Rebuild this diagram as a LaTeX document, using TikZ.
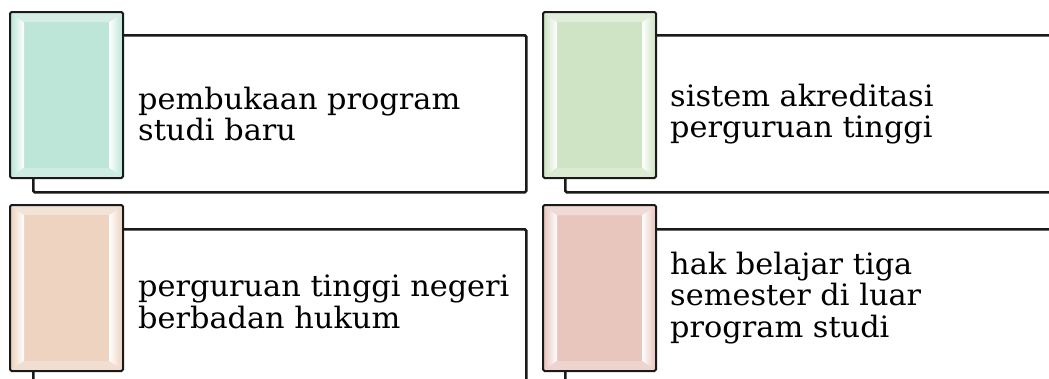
\documentclass[tikz,border=0pt]{standalone}
\usepackage{fontspec}
\setmainfont[FakeStretch=1.03]{DejaVu Serif}
\definecolor{tealfill}{HTML}{BDE5D8}
\definecolor{greenfill}{HTML}{CFE3C5}
\definecolor{peachfill}{HTML}{EDD3C0}
\definecolor{pinkfill}{HTML}{E8C6BE}
\definecolor{edge}{HTML}{1A1A1A}
\tikzset{
  panel/.style={draw=edge, line width=2.6bp, fill=white, rounded corners=1.5bp,
    minimum width=493bp, minimum height=157bp, anchor=north west, inner sep=0pt},
  tab/.style={draw=edge, line width=2bp, fill=#1, rounded corners=1.5bp,
    minimum width=111bp, minimum height=164bp, anchor=north west, inner sep=0pt},
  label/.style={anchor=west, align=left, inner sep=0pt, text=black,
    font=\fontsize{29.6}{31.5}\selectfont},
}
% glossy bevel inside a coloured tab
\newcommand{\bevel}[2]{%
  \shade[left color=#2, right color=white]
    ([shift={(1,1)}]#1.north west) -- ([shift={(14,10)}]#1.north west)
    -- ([shift={(14,-10)}]#1.south west) -- ([shift={(1,-1)}]#1.south west) -- cycle;
  \shade[left color=white, right color=#2]
    ([shift={(-1,1)}]#1.north east) -- ([shift={(-14,10)}]#1.north east)
    -- ([shift={(-14,-10)}]#1.south east) -- ([shift={(-1,-1)}]#1.south east) -- cycle;
  \fill[#2!65!white]
    ([shift={(1,1)}]#1.north west) -- ([shift={(14,10)}]#1.north west)
    -- ([shift={(-14,10)}]#1.north east) -- ([shift={(-1,1)}]#1.north east) -- cycle;
  \fill[#2!75!white]
    ([shift={(1,-1)}]#1.south west) -- ([shift={(14,-10)}]#1.south west)
    -- ([shift={(-14,-10)}]#1.south east) -- ([shift={(-1,-1)}]#1.south east) -- cycle;
  \draw[edge, line width=2bp, rounded corners=1.5bp]
    (#1.north west) rectangle (#1.south east);
}
\begin{document}
\begin{tikzpicture}[x=1bp, y=-1bp]
  \useasboundingbox (0,0) rectangle (1049,378);
  \clip (0,0) rectangle (1049,378);

  % white panels behind the tabs
  \node[panel] (p1) at (32,34) {};
  \node[panel] (p2) at (564,34) {};
  \node[panel] (p3) at (32,228) {};
  \node[panel] (p4) at (564,228) {};

  % coloured tabs
  \node[tab=tealfill]  (c1) at (10,12) {};
  \node[tab=greenfill] (c2) at (543,12) {};
  \node[tab=peachfill] (c3) at (10,205) {};
  \node[tab=pinkfill]  (c4) at (543,205) {};
  \bevel{c1}{tealfill}
  \bevel{c2}{greenfill}
  \bevel{c3}{peachfill}
  \bevel{c4}{pinkfill}

  % texts
  \node[label] (t1) at (138,114) {pembukaan program\\studi baru};
  \node[label] (t2) at (670,114) {sistem akreditasi\\perguruan tinggi};
  \node[label] (t3) at (138,302) {perguruan tinggi negeri\\berbadan hukum};
  \node[label] (t4) at (670,298) {hak belajar tiga\\semester di luar\\program studi};
\end{tikzpicture}
\end{document}
